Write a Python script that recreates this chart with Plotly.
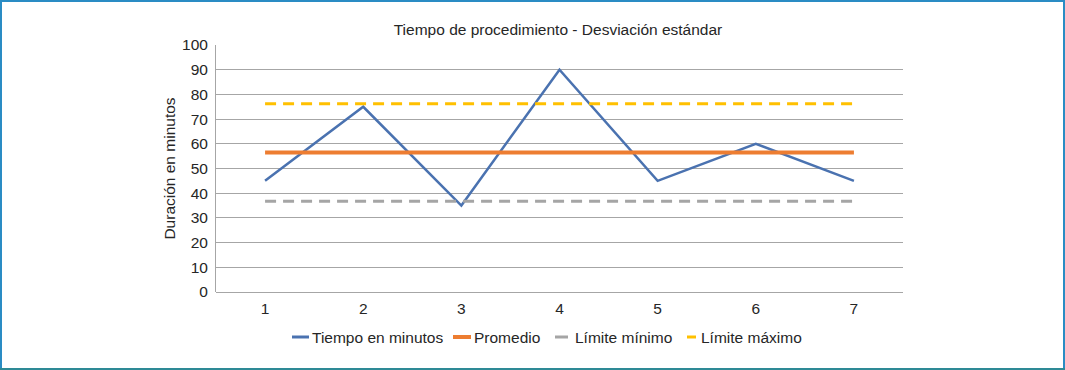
import plotly.graph_objects as go

categorias = ["1", "2", "3", "4", "5", "6", "7"]
tiempo = [45, 75, 35, 90, 45, 60, 45]
promedio = [56.43, 56.43, 56.43, 56.43, 56.43, 56.43, 56.43]
limite_min = [36.7, 36.7, 36.7, 36.7, 36.7, 36.7, 36.7]
limite_max = [76.2, 76.2, 76.2, 76.2, 76.2, 76.2, 76.2]
y_ticks = [0, 10, 20, 30, 40, 50, 60, 70, 80, 90, 100]
series_nombres = ["Tiempo en minutos", "Promedio", "Límite mínimo", "Límite máximo"]
series_colores = ["#4a72b0", "#ed7d31", "#a5a5a5", "#ffc000"]

FONT = "Liberation Sans, Arial, sans-serif"
TXT = "#262626"
W, H = 1065, 370
ML, MR, MT, MB = 216, 162, 45, 78
PW, PH = W - ML - MR, H - MT - MB


def px_x(px):
    return (px - ML) / PW


def px_y(py):
    return (H - MB - py) / PH


fig = go.Figure()
fig.add_trace(go.Scatter(x=categorias, y=tiempo, mode="lines", name=series_nombres[0],
                         line=dict(color=series_colores[0], width=2.5)))
fig.add_trace(go.Scatter(x=categorias, y=promedio, mode="lines", name=series_nombres[1],
                         line=dict(color=series_colores[1], width=4)))
fig.add_trace(go.Scatter(x=categorias, y=limite_min, mode="lines", name=series_nombres[2],
                         line=dict(color=series_colores[2], width=3, dash="11px,7px")))
fig.add_trace(go.Scatter(x=categorias, y=limite_max, mode="lines", name=series_nombres[3],
                         line=dict(color=series_colores[3], width=3, dash="11px,7px")))

fig.update_layout(
    width=W, height=H,
    margin=dict(l=ML, r=MR, t=MT, b=MB, autoexpand=False),
    paper_bgcolor="white", plot_bgcolor="white",
    font=dict(family=FONT, size=15.5, color=TXT),
    title=dict(text="Tiempo de procedimiento - Desviación estándar",
               x=px_x(558), xref="paper", xanchor="center", y=1 - 30 / H, yanchor="middle",
               font=dict(size=15.5, color=TXT)),
    showlegend=False,
    xaxis=dict(type="category", range=[-0.5, 6.5], showgrid=False, automargin=False,
               showline=False, ticks="", ticklabelstandoff=5,
               tickfont=dict(size=15.5, color=TXT)),
    yaxis=dict(range=[0, 100], tickvals=y_ticks, showgrid=True, gridcolor="#a6a6a6",
               gridwidth=1, zeroline=True, zerolinecolor="#a6a6a6", zerolinewidth=1,
               showline=True, linecolor="#a6a6a6", linewidth=1, ticks="",
               ticklabelstandoff=4, automargin=False,
               tickfont=dict(size=15.5, color=TXT),
               title=dict(text="Duración en minutos", font=dict(size=15.5, color=TXT), standoff=2)),
)

# manual legend (short samples as in the reference)
leg_y = px_y(337)
samples = [(292, 309, 3), (453, 471, 4), (555, 568, 3), (687, 696, 3)]
text_x = [310, 472, 573, 699]
for i, (x0, x1, w) in enumerate(samples):
    fig.add_shape(type="line", xref="paper", yref="paper", x0=px_x(x0), x1=px_x(x1),
                  y0=leg_y, y1=leg_y, line=dict(color=series_colores[i], width=w))
    fig.add_annotation(xref="paper", yref="paper", x=px_x(text_x[i]), y=leg_y,
                       xanchor="left", yanchor="middle", showarrow=False,
                       text=series_nombres[i], font=dict(size=15.5, color=TXT))

# outer frame
fig.add_shape(type="line", xref="paper", yref="paper", x0=px_x(0), x1=px_x(W),
              y0=px_y(1), y1=px_y(1), line=dict(color="#2a8cc4", width=2))
fig.add_shape(type="line", xref="paper", yref="paper", x0=px_x(1), x1=px_x(1),
              y0=px_y(0), y1=px_y(H), line=dict(color="#2a8cc4", width=2))
fig.add_shape(type="line", xref="paper", yref="paper", x0=px_x(W - 1), x1=px_x(W - 1),
              y0=px_y(0), y1=px_y(H), line=dict(color="#2a8cc4", width=2))
fig.add_shape(type="line", xref="paper", yref="paper", x0=px_x(0), x1=px_x(W),
              y0=px_y(H - 1), y1=px_y(H - 1), line=dict(color="#2e8a96", width=2))

fig.write_html("out.html", config={"displayModeBar": False})

# remove default page margin so the figure sits at the window origin
with open("out.html", "r", encoding="utf-8") as f:
    html = f.read()
html = html.replace("<head>", "<head><style>html,body{margin:0;padding:0;overflow:hidden}</style>", 1)
with open("out.html", "w", encoding="utf-8") as f:
    f.write(html)
